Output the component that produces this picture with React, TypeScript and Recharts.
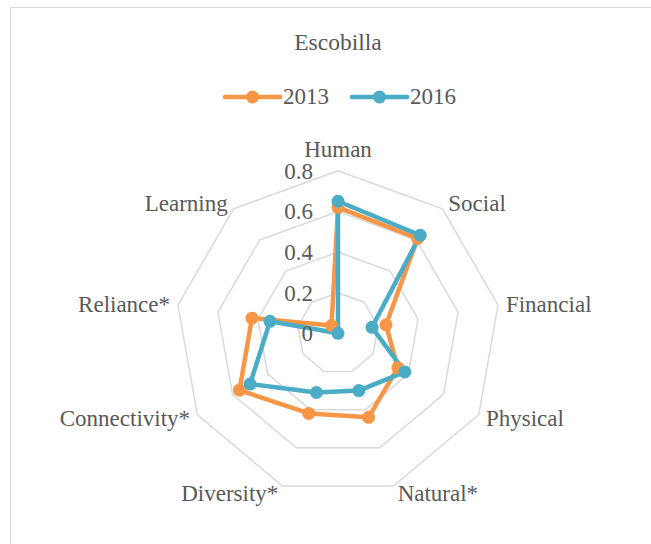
import React from 'react';
import { RadarChart, Radar, PolarGrid, PolarAngleAxis, PolarRadiusAxis } from 'recharts';

const categories = ['Human', 'Social', 'Financial', 'Physical', 'Natural*', 'Diversity*', 'Connectivity*', 'Reliance*', 'Learning'];
const values2013 = [0.62, 0.61, 0.24, 0.34, 0.44, 0.42, 0.56, 0.43, 0.05];
const values2016 = [0.65, 0.63, 0.17, 0.38, 0.3, 0.31, 0.5, 0.34, 0.0];
const radiusTicks = [0, 0.2, 0.4, 0.6, 0.8];
const seriesNames = ['2013', '2016'];
const title = 'Escobilla';

const W = 651;
const H = 544;
const CX = 338;
const CY = 333.3;
const R = 162.5; // radius of the 0.8 ring
// recharts nices a [0, 0.8] radius domain up to [0, 1], so size the chart for 1.0
// and only draw rings up to 0.8
const AXIS_MAX = 1;
const ORANGE = '#F79646';
const BLUE = '#4BACC6';
const TEXT = '#595959';
const GRID = '#D9D9D9';
const FONT = '"Liberation Serif", "Times New Roman", serif';
const COLORS = [ORANGE, BLUE];

const chartData = categories.map((name, i) => ({ name, y2013: values2013[i], y2016: values2016[i] }));

// category labels sit just outside the outer ring, Excel style
const AngleTick = (props: any) => {
  const { x, y, payload } = props;
  const a = Math.atan2(CY - y, x - CX);
  const cos = Math.cos(a);
  const sin = Math.sin(a);
  const vx = CX + R * cos;
  const vy = CY - R * sin;
  let anchor = 'middle';
  let tx = vx;
  let ty = sin > 0 ? vy - 13.4 : vy + 22;
  if (Math.abs(cos) > 0.1) {
    anchor = cos > 0 ? 'start' : 'end';
    tx = vx + Math.sign(cos) * (2 + 6 * Math.abs(cos));
    ty = vy + 8.1 - 7.3 * sin;
  }
  return (
    <text x={tx} y={ty} textAnchor={anchor} fill={TEXT} fontSize={23} fontFamily={FONT}>
      {payload.value}
    </text>
  );
};

const RadiusTick = (props: any) => {
  const { x, y, payload } = props;
  return (
    <text x={x - 25} y={y + 8} textAnchor="end" fill={TEXT} fontSize={23} fontFamily={FONT}>
      {String(payload.value)}
    </text>
  );
};

const App: React.FC = () => {
  return (
    <div style={{ position: 'fixed', inset: 0, overflow: 'hidden', background: '#fff' }}>
      <div
        style={{
          position: 'absolute',
          left: 10,
          top: 7,
          width: 760,
          height: 640,
          border: '1.5px solid #D9D9D9',
        }}
      />
      <div style={{ position: 'absolute', left: 0, top: 0, width: W, height: H }}>
        <RadarChart
          width={W}
          height={H}
          data={chartData}
          cx={CX}
          cy={CY}
          outerRadius={R / 0.8}
          startAngle={90}
          endAngle={-270}
          margin={{ top: 0, right: 0, bottom: 0, left: 0 }}
        >
          <PolarGrid gridType="polygon" radialLines={false} stroke={GRID} strokeWidth={1.5} />
          <PolarAngleAxis dataKey="name" axisLine={false} tickLine={false} tick={<AngleTick />} />
          <PolarRadiusAxis
            type="number"
            angle={90}
            domain={[0, AXIS_MAX]}
            ticks={radiusTicks as any}
            axisLine={false}
            tickLine={false}
            tick={<RadiusTick />}
          />
          <Radar
            name="2013"
            dataKey="y2013"
            stroke={ORANGE}
            strokeWidth={4.5}
            strokeLinejoin="round"
            fill="none"
            dot={{ r: 6.5, fill: ORANGE, fillOpacity: 1, stroke: 'none' }}
            isAnimationActive={false}
          />
          <Radar
            name="2016"
            dataKey="y2016"
            stroke={BLUE}
            strokeWidth={4.5}
            strokeLinejoin="round"
            fill="none"
            dot={{ r: 6.5, fill: BLUE, fillOpacity: 1, stroke: 'none' }}
            isAnimationActive={false}
          />
        </RadarChart>
      </div>
      <svg width={W} height={H} style={{ position: 'absolute', left: 0, top: 0, pointerEvents: 'none' }}>
        <text x={CX} y={50} textAnchor="middle" fill={TEXT} fontSize={23.5} fontFamily={FONT}>
          {title}
        </text>
        {seriesNames.map((s, i) => {
          const x0 = 225 + i * 127;
          return (
            <g key={s}>
              <line x1={x0} y1={97} x2={x0 + 55} y2={97} stroke={COLORS[i]} strokeWidth={4.5} strokeLinecap="round" />
              <circle cx={x0 + 27.5} cy={97} r={6.5} fill={COLORS[i]} />
              <text x={x0 + 58} y={104.3} fill={TEXT} fontSize={23} fontFamily={FONT}>
                {s}
              </text>
            </g>
          );
        })}
      </svg>
    </div>
  );
};

export default App;
